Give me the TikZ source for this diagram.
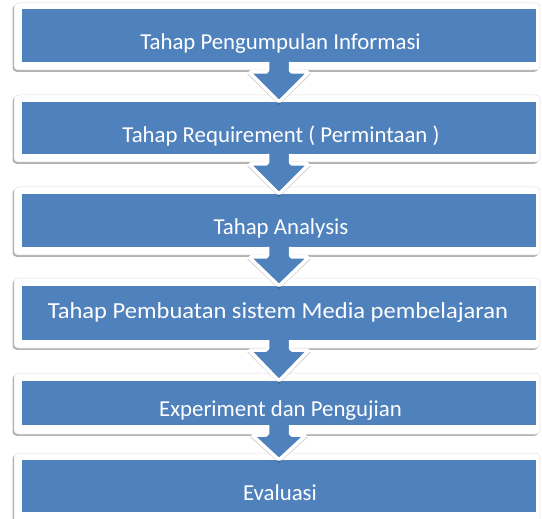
\documentclass[tikz,border=0pt]{standalone}
\usepackage{fontspec}
\setmainfont{Carlito}
\newfontfamily\widecarlito{Carlito}[FakeStretch=1.066]
\usetikzlibrary{calc}
\definecolor{stepblue}{HTML}{4F81BD}
\tikzset{
  frameshadow/.style={fill=black!30, rounded corners=4pt},
  framebox/.style={fill=white, draw=black!12, line width=0.5pt, rounded corners=4pt},
  bluebox/.style={fill=stepblue, draw=none, inner sep=0pt, outer sep=0pt, minimum width=514pt},
  steplabel/.style={text=white, font=\fontsize{22.8}{27}\selectfont, anchor=base, inner sep=0pt},
  widelabel/.style={steplabel, font=\widecarlito\fontsize{23}{27}\selectfont},
  arrowshadow/.style={fill=black, opacity=0.18},
  arrowbody/.style={fill=stepblue},
  arrowrim/.style={draw=white, line width=3.5pt, line join=round, rounded corners=1.5pt},
}
% white card with a soft shadow behind each stage
\newcommand\stagecard[2]{%
  \fill[frameshadow] (12.5,#1+1.8) rectangle (538.5,#2+1.8);
  \draw[framebox] (14,#1) rectangle (540,#2);
}
% block arrow from the bottom of one stage into the top of the next
% #1 upper stage, #2 lower stage, #3 half width of the head (pt)
\newcommand\flowarrow[3]{%
  \fill[arrowshadow] let \p1=(#1.south), \p2=(#2.north) in
    (\x1-13pt,\y1-4pt) -- (\x1-13pt,\y1-12pt) -- (\x1-#3pt-2pt,\y1-12pt)
    -- (\x1,\y2-3pt) -- (\x1+#3pt+2pt,\y1-12pt) -- (\x1+13pt,\y1-12pt)
    -- (\x1+13pt,\y1-4pt) -- cycle;
  \fill[arrowbody] let \p1=(#1.south), \p2=(#2.north) in
    (\x1-11.5pt,\y1+3pt) -- (\x1-11.5pt,\y1-10pt) -- (\x1-#3pt,\y1-10pt)
    -- (\x1,\y2) -- (\x1+#3pt,\y1-10pt) -- (\x1+11.5pt,\y1-10pt)
    -- (\x1+11.5pt,\y1+3pt) -- cycle;
  \draw[arrowrim] let \p1=(#1.south), \p2=(#2.north) in
    (\x1-11.5pt,\y1) -- (\x1-11.5pt,\y1-10pt) -- (\x1-#3pt,\y1-10pt)
    -- (\x1,\y2) -- (\x1+#3pt,\y1-10pt) -- (\x1+11.5pt,\y1-10pt)
    -- (\x1+11.5pt,\y1);
}
\begin{document}
\begin{tikzpicture}[x=1pt,y=-1pt]
  \useasboundingbox (0,0) rectangle (542,519);
  \clip (0,0) rectangle (542,519);

  % cards
  \stagecard{3}{70}
  \stagecard{95}{162}
  \stagecard{187}{255}
  \stagecard{278}{348}
  \stagecard{373}{434}
  \stagecard{453}{530}

  % blue stage bars
  \node[bluebox, minimum height=52.5pt] (b1) at (279,35.75) {};
  \node[bluebox, minimum height=52pt]   (b2) at (279,128) {};
  \node[bluebox, minimum height=53pt]   (b3) at (279,220.5) {};
  \node[bluebox, minimum height=54pt]   (b4) at (279,313) {};
  \node[bluebox, minimum height=44pt]   (b5) at (279,403) {};
  \node[bluebox, minimum height=52pt]   (b6) at (279,486) {};

  % stage titles (some are cut off at the bottom of their text area)
  \begin{scope}
    \clip (22,9.5) rectangle (536,53.5);
    \node[steplabel] (t1) at (280.5,50) {Tahap Pengumpulan Informasi};
  \end{scope}
  \node[steplabel] (t2) at (281,142.5) {Tahap Requirement ( Permintaan )};
  \begin{scope}
    \clip (22,194) rectangle (536,237.5);
    \node[steplabel] (t3) at (281,234.5) {Tahap Analysis};
  \end{scope}
  \node[widelabel] (t4) at (278,319) {Tahap Pembuatan sistem Media pembelajaran};
  \begin{scope}
    \clip (22,381) rectangle (536,419);
    \node[steplabel] (t5) at (280.5,416.5) {Experiment dan Pengujian};
  \end{scope}
  \node[steplabel] (t6) at (280,500) {Evaluasi};

  % arrows between stages
  \flowarrow{b1}{b2}{30}
  \flowarrow{b2}{b3}{30}
  \flowarrow{b3}{b4}{30}
  \flowarrow{b4}{b5}{30}
  \flowarrow{b5}{b6}{27}
\end{tikzpicture}
\end{document}
